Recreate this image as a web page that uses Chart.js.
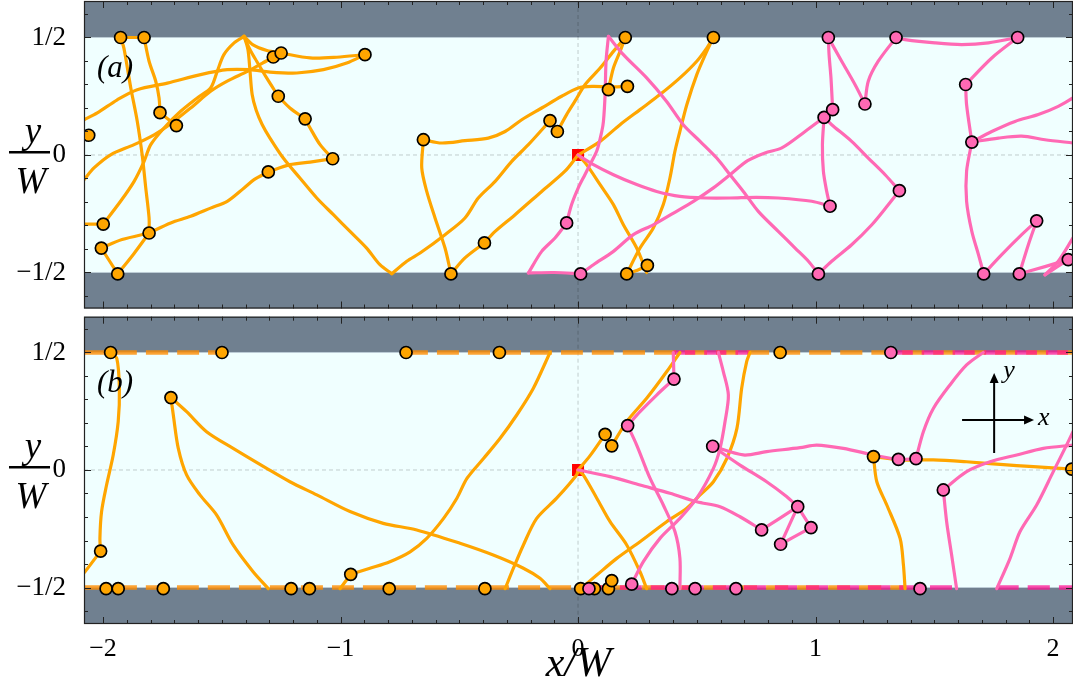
<!DOCTYPE html>
<html><head><meta charset="utf-8">
<script src="https://cdn.jsdelivr.net/npm/chart.js@4.4.0/dist/chart.umd.min.js"></script>
<style>
html,body{margin:0;padding:0;background:#fff;}
#wrap{position:relative;width:1073px;height:688px;overflow:hidden;}
#ca{position:absolute;left:0;top:0;}
#cb{position:absolute;left:0;top:312px;}
</style></head><body>
<div id="wrap"><canvas id="ca" width="1073" height="312"></canvas><canvas id="cb" width="1073" height="376"></canvas></div>
<script>
// ---------- axes ----------
const X_MIN = -2.08, X_MAX = 2.084;
const xTickValues = [-2, -1, 0, 1, 2];
const xTickLabels = ['−2', '−1', '0', '1', '2'];
const yTickValues = [-0.5, 0, 0.5];
const yTickLabels = ['−1/2', '0', '1/2'];
const WALL = 0.5;
const origin = [[0, 0]];

// ---------- panel (a) ----------
const aOrangePaths = [
  [[-1.926,0.5],[-1.827,0.5]],
  [[-1.926,0.5],[-1.912,0.455],[-1.883,0.285],[-1.856,0.145],[-1.835,0.0],[-1.82,-0.14],[-1.806,-0.268],[-1.806,-0.332]],
  [[-1.827,0.5],[-1.806,0.399],[-1.778,0.314],[-1.764,0.243],[-1.76,0.18]],
  [[-1.76,0.18],[-1.691,0.125]],
  [[-2.08,0.15],[-2.024,0.179],[-1.94,0.235],[-1.856,0.278],[-1.729,0.306],[-1.589,0.342],[-1.477,0.363],[-1.381,0.363],[-1.297,0.353],[-1.184,0.349],[-1.072,0.363],[-0.974,0.391],[-0.897,0.427]],
  [[-2.08,-0.105],[-2.038,-0.055],[-1.968,0.001],[-1.869,0.044],[-1.785,0.086],[-1.729,0.122],[-1.631,0.2],[-1.547,0.271],[-1.477,0.314],[-1.392,0.356],[-1.33,0.39],[-1.283,0.417]],
  [[-1.406,0.505],[-1.37,0.47],[-1.31,0.445],[-1.25,0.434]],
  [[-1.25,0.434],[-1.128,0.413],[-1.016,0.416],[-0.897,0.427]],
  [[-2.08,-0.294],[-1.999,-0.294]],
  [[-1.999,-0.294],[-1.926,-0.197],[-1.869,-0.112],[-1.827,-0.027],[-1.799,0.044],[-1.743,0.115],[-1.673,0.186],[-1.603,0.243],[-1.547,0.285],[-1.519,0.356],[-1.491,0.427],[-1.448,0.477],[-1.406,0.505]],
  [[-1.806,-0.332],[-1.715,-0.289],[-1.631,-0.261],[-1.547,-0.226],[-1.477,-0.197],[-1.406,-0.14],[-1.364,-0.105],[-1.304,-0.072]],
  [[-1.304,-0.072],[-1.213,-0.041],[-1.128,-0.03],[-1.033,-0.016]],
  [[-2.007,-0.396],[-1.92,-0.36],[-1.806,-0.332]],
  [[-2.007,-0.396],[-1.938,-0.506]],
  [[-1.938,-0.506],[-1.87,-0.42],[-1.806,-0.332]],
  [[-1.033,-0.016],[-1.086,0.044],[-1.128,0.115],[-1.149,0.154]],
  [[-1.149,0.154],[-1.213,0.2],[-1.262,0.25]],
  [[-1.262,0.25],[-1.311,0.328],[-1.353,0.399],[-1.381,0.448],[-1.406,0.505]],
  [[-1.406,0.505],[-1.39,0.45],[-1.382,0.37],[-1.372,0.257],[-1.355,0.19],[-1.33,0.13],[-1.297,0.072],[-1.241,-0.013],[-1.171,-0.098],[-1.1,-0.183],[-1.03,-0.254],[-0.96,-0.325],[-0.89,-0.396],[-0.834,-0.467],[-0.784,-0.505]],
  [[-0.784,-0.505],[-0.721,-0.452],[-0.665,-0.417],[-0.56,-0.339],[-0.476,-0.268],[-0.42,-0.183],[-0.349,-0.112],[-0.279,-0.027],[-0.209,0.044],[-0.118,0.146]],
  [[0,0],[-0.055,-0.069],[-0.153,-0.155],[-0.265,-0.254],[-0.349,-0.325],[-0.394,-0.374]],
  [[-0.394,-0.374],[-0.476,-0.438],[-0.535,-0.506]],
  [[-0.535,-0.506],[-0.56,-0.396],[-0.602,-0.268],[-0.637,-0.155],[-0.658,-0.055],[-0.651,0.065]],
  [[-0.651,0.065],[-0.574,0.051],[-0.476,0.061],[-0.378,0.072],[-0.307,0.1],[-0.237,0.15],[-0.153,0.2],[-0.069,0.25],[0.001,0.285],[0.06,0.292],[0.128,0.29],[0.208,0.292]],
  [[-0.087,0.1],[-0.048,0.172],[-0.013,0.229],[0.03,0.3],[0.093,0.37],[0.149,0.441],[0.199,0.5]],
  [[0.128,0.278],[0.149,0.37],[0.177,0.441],[0.199,0.5]],
  [[0,0],[0.093,0.058],[0.177,0.129],[0.261,0.193],[0.345,0.257],[0.429,0.328],[0.5,0.399],[0.542,0.455],[0.57,0.5]],
  [[0.57,0.5],[0.542,0.441],[0.5,0.342],[0.458,0.214],[0.429,0.101],[0.408,0.016],[0.387,-0.098],[0.359,-0.211],[0.317,-0.311],[0.261,-0.396],[0.205,-0.506]],
  [[0.205,-0.506],[0.25,-0.49],[0.292,-0.47]],
  [[0,0],[0.036,-0.041],[0.093,-0.126],[0.149,-0.211],[0.191,-0.297],[0.247,-0.396],[0.289,-0.5]]
];
const aOrangeDots = [[-1.926,0.5],[-1.827,0.5],[-1.76,0.18],[-1.691,0.125],[-2.06,0.084],[-1.999,-0.294],[-1.806,-0.332],[-2.007,-0.396],[-1.938,-0.506],[-1.283,0.417],[-1.25,0.434],[-0.897,0.427],[-1.262,0.25],[-1.149,0.154],[-1.033,-0.016],[-1.304,-0.072],[-0.651,0.065],[-0.535,-0.506],[-0.394,-0.374],[-0.118,0.146],[-0.087,0.1],[0.128,0.278],[0.208,0.292],[0.199,0.5],[0.57,0.5],[0.205,-0.506],[0.292,-0.47]];
const aPinkPaths = [
  [[-0.048,-0.289],[-0.027,-0.211],[0.001,-0.14],[0.029,-0.084],[0.051,-0.04],[0.08,0.02],[0.1,0.1],[0.107,0.143],[0.114,0.257],[0.118,0.399],[0.128,0.505]],
  [[-0.048,-0.289],[-0.097,-0.353],[-0.153,-0.41],[-0.209,-0.502]],
  [[-0.209,-0.502],[-0.1,-0.5],[0.011,-0.506]],
  [[0.128,0.505],[0.191,0.427],[0.289,0.328],[0.373,0.228],[0.443,0.129],[0.514,0.058],[0.584,-0.013],[0.64,-0.084],[0.696,-0.155],[0.759,-0.24],[0.843,-0.325],[0.914,-0.396],[0.97,-0.452],[1.012,-0.506]],
  [[1.012,-0.506],[1.068,-0.452],[1.152,-0.382],[1.237,-0.297],[1.307,-0.211],[1.353,-0.152]],
  [[1.353,-0.152],[1.293,-0.084],[1.222,-0.013],[1.152,0.058],[1.068,0.129],[1.036,0.16]],
  [[1.036,0.16],[1.029,0.044],[1.033,-0.069],[1.047,-0.155],[1.061,-0.218]],
  [[0,0],[0.065,-0.041],[0.149,-0.084],[0.247,-0.126],[0.331,-0.155],[0.429,-0.176],[0.542,-0.183],[0.64,-0.183],[0.75,-0.18],[0.843,-0.183],[0.984,-0.197],[1.061,-0.218]],
  [[0.011,-0.506],[0.065,-0.467],[0.149,-0.41],[0.233,-0.339],[0.317,-0.297],[0.402,-0.247],[0.486,-0.197],[0.57,-0.14],[0.64,-0.084],[0.714,-0.024],[0.787,0.009],[0.858,0.03],[0.956,0.1],[1.036,0.16]],
  [[1.036,0.16],[1.072,0.193]],
  [[1.072,0.193],[1.065,0.328],[1.057,0.427],[1.054,0.5]],
  [[1.054,0.5],[1.11,0.399],[1.166,0.3],[1.208,0.217]],
  [[1.208,0.217],[1.222,0.314],[1.264,0.399],[1.339,0.5]],
  [[1.339,0.5],[1.377,0.491],[1.503,0.477],[1.615,0.47],[1.728,0.477],[1.851,0.5]],
  [[1.851,0.5],[1.742,0.413],[1.632,0.3]],
  [[1.632,0.3],[1.636,0.214],[1.658,0.055]],
  [[1.658,0.055],[1.636,-0.069],[1.636,-0.197],[1.658,-0.325],[1.686,-0.424],[1.708,-0.506]],
  [[1.658,0.055],[1.77,0.072],[1.868,0.08],[1.966,0.065],[2.084,0.051]],
  [[1.658,0.055],[1.742,0.1],[1.84,0.143],[1.938,0.172],[2.022,0.207],[2.084,0.243]],
  [[1.708,-0.506],[1.784,-0.424],[1.868,-0.339],[1.931,-0.28]],
  [[1.931,-0.28],[1.896,-0.382],[1.858,-0.506]],
  [[1.858,-0.506],[1.966,-0.475],[2.064,-0.445]],
  [[2.064,-0.445],[1.966,-0.51]],
  [[1.966,-0.51],[2.022,-0.452],[2.084,-0.353]]
];
const aPinkDots = [[-0.048,-0.289],[0.011,-0.506],[1.012,-0.506],[1.353,-0.152],[1.036,0.16],[1.072,0.193],[1.061,-0.218],[1.054,0.5],[1.208,0.217],[1.339,0.5],[1.851,0.5],[1.632,0.3],[1.658,0.055],[1.708,-0.506],[1.931,-0.28],[1.858,-0.506],[2.064,-0.445]];

// ---------- panel (b) ----------
const bOrangeWall = [
  [[-2.08,0.5],[-1.499,0.5]],
  [[-0.724,0.5],[2.084,0.5]],
  [[-2.08,-0.5],[1.377,-0.5]]
];
const bPinkWall = [
  [[0.401,0.5],[0.724,0.5]],
  [[1.317,0.5],[2.084,0.5]],
  [[0.046,-0.5],[1.594,-0.5]],
  [[1.763,-0.5],[2.084,-0.5]]
];
const bOrangePaths = [
  [[-1.968,0.5],[-1.942,0.475],[-1.931,0.348],[-1.936,0.206],[-1.957,0.064],[-1.985,-0.064],[-2.006,-0.177],[-2.013,-0.291],[-2.01,-0.345]],
  [[-2.01,-0.345],[-2.076,-0.433],[-2.1,-0.46]],
  [[-1.714,0.308],[-1.704,0.234],[-1.683,0.092],[-1.648,-0.021],[-1.592,-0.106],[-1.522,-0.191],[-1.452,-0.319],[-1.368,-0.433],[-1.304,-0.505]],
  [[-1.714,0.308],[-1.648,0.248],[-1.564,0.163],[-1.452,0.092],[-1.311,0.007],[-1.213,-0.05],[-1.1,-0.106],[-0.96,-0.177],[-0.82,-0.227],[-0.679,-0.255],[-0.497,-0.312],[-0.357,-0.362],[-0.23,-0.418],[-0.16,-0.461],[-0.118,-0.505]],
  [[-1.002,-0.505],[-0.957,-0.444]],
  [[-0.957,-0.444],[-0.876,-0.418],[-0.792,-0.39],[-0.707,-0.348],[-0.637,-0.291],[-0.566,-0.206],[-0.51,-0.12],[-0.467,-0.035],[-0.397,0.05],[-0.328,0.135],[-0.258,0.234],[-0.188,0.348],[-0.118,0.5]],
  [[0,0],[0.05,0.06],[0.114,0.152]],
  [[0.142,0.103],[0.205,0.206],[0.289,0.305],[0.373,0.418],[0.429,0.5]],
  [[0,0],[-0.006,-0.021],[-0.09,-0.12],[-0.174,-0.206],[-0.23,-0.319],[-0.272,-0.418],[-0.307,-0.505]],
  [[0,0],[0.022,-0.021],[0.079,-0.12],[0.135,-0.22],[0.205,-0.319],[0.261,-0.433],[0.289,-0.505]],
  [[0.011,-0.505],[0.079,-0.447],[0.163,-0.376],[0.261,-0.305],[0.373,-0.22],[0.458,-0.163],[0.514,-0.106],[0.57,-0.05],[0.627,0.05],[0.669,0.177],[0.689,0.348],[0.71,0.461],[0.724,0.5]],
  [[0.128,-0.505],[0.142,-0.471]],
  [[1.244,0.057],[1.258,-0.05],[1.3,-0.149],[1.356,-0.291],[1.37,-0.404],[1.377,-0.505]],
  [[1.244,0.057],[1.356,0.043],[1.496,0.043],[1.636,0.035],[1.777,0.024],[1.917,0.014],[2.079,0.004]]
];
const bOrangeDots = [[-1.968,0.5],[-1.499,0.5],[-1.714,0.308],[-2.01,-0.345],[-1.987,-0.505],[-1.936,-0.505],[-1.746,-0.505],[-1.208,-0.505],[-1.131,-0.505],[-0.957,-0.444],[-0.724,0.5],[-0.331,0.5],[-0.795,-0.505],[-0.392,-0.505],[0.011,-0.505],[0.069,-0.505],[0.128,-0.505],[0.142,-0.471],[0.114,0.152],[0.142,0.103],[0.851,0.5],[1.244,0.057],[2.079,0.004]];
const bPinkPaths = [
  [[0,0],[0.135,-0.028],[0.261,-0.064],[0.387,-0.099],[0.5,-0.135],[0.598,-0.156],[0.682,-0.199],[0.773,-0.255]],
  [[0.209,0.189],[0.247,0.106],[0.303,-0.035],[0.359,-0.149],[0.408,-0.262],[0.429,-0.376],[0.429,-0.505]],
  [[0.226,-0.486],[0.275,-0.39],[0.345,-0.291],[0.429,-0.206],[0.5,-0.12],[0.57,0.007],[0.598,0.092],[0.619,0.206],[0.633,0.319],[0.612,0.418],[0.591,0.5]],
  [[0.209,0.189],[0.261,0.248],[0.331,0.319],[0.404,0.387]],
  [[0.404,0.387],[0.401,0.5]],
  [[0.567,0.101],[0.696,0.064],[0.794,0.078],[0.935,0.095],[1.005,0.106],[1.117,0.092],[1.244,0.064],[1.349,0.045],[1.423,0.048]],
  [[0.567,0.101],[0.682,0.021],[0.794,-0.05],[0.878,-0.113],[0.925,-0.156]],
  [[0.925,-0.156],[0.773,-0.255]],
  [[0.925,-0.156],[0.853,-0.316]],
  [[0.925,-0.156],[0.981,-0.245]],
  [[0.981,-0.245],[0.853,-0.316]],
  [[1.423,0.048],[1.454,0.163],[1.496,0.262],[1.566,0.362],[1.636,0.447],[1.706,0.5]],
  [[1.538,-0.085],[1.636,-0.007],[1.735,0.035],[1.847,0.064],[1.959,0.092],[2.084,0.106]],
  [[1.538,-0.085],[1.552,-0.22],[1.573,-0.362],[1.594,-0.505]],
  [[1.763,-0.505],[1.819,-0.376],[1.861,-0.262],[1.931,-0.149],[2.001,-0.007],[2.057,0.106],[2.084,0.163]]
];
const bPinkDots = [[0.046,-0.505],[0.226,-0.486],[0.395,-0.505],[0.493,-0.505],[0.209,0.189],[0.404,0.387],[0.567,0.101],[0.665,-0.505],[0.925,-0.156],[0.773,-0.255],[0.981,-0.245],[0.853,-0.316],[1.317,0.5],[1.349,0.045],[1.423,0.048],[1.538,-0.085],[1.44,-0.505]];

// ---------- styles ----------
const ORANGE = '#FFA500', PINK = '#FF69B4';
const ORANGE_DASH = 'rgba(255,140,0,0.8)', PINK_DASH = 'rgba(255,20,147,0.75)';
const SERIF = "'Liberation Serif', 'DejaVu Serif', serif";

function pts(a){ return a.map(p => ({x:p[0], y:p[1]})); }
function lineDs(seg, color, width, order, dash){
  return {data:pts(seg), showLine:true, borderColor:color, borderWidth:width, pointRadius:0, pointHoverRadius:0,
    tension:0.3, fill:false, clip:0, order:order, borderDash:dash||[], borderCapStyle: dash ? 'butt' : 'round', borderJoinStyle:'round'};
}
function dotDs(list, color, order){
  return {data:pts(list), showLine:false, pointRadius:6, pointHoverRadius:6, pointBackgroundColor:color,
    pointBorderColor:'#000', pointBorderWidth:1.7, clip:0, order:order};
}
function squareDs(order){
  return {data:pts(origin), showLine:false, pointStyle:'rect', pointRadius:8.5, pointHoverRadius:8.5,
    pointBackgroundColor:'#FF0000', pointBorderColor:'#FF0000', pointBorderWidth:0, clip:0, order:order};
}

function panelPlugin(label, arrows){
  return {
    id:'panel_'+label,
    beforeDatasetsDraw(chart){
      const {ctx, chartArea:a, scales:{x, y}} = chart;
      ctx.save();
      ctx.fillStyle = '#708090';
      ctx.fillRect(a.left, a.top, a.width, a.height);
      const yt = y.getPixelForValue(WALL), yb = y.getPixelForValue(-WALL);
      ctx.fillStyle = '#F0FFFF';
      ctx.fillRect(a.left, yt, a.width, yb - yt);
      ctx.strokeStyle = 'rgba(190,205,215,0.9)'; ctx.lineWidth = 1;
      ctx.beginPath(); ctx.moveTo(a.left, yt); ctx.lineTo(a.right, yt); ctx.moveTo(a.left, yb); ctx.lineTo(a.right, yb); ctx.stroke();
      ctx.strokeStyle = 'rgba(0,0,0,0.2)'; ctx.lineWidth = 1; ctx.setLineDash([4,3]);
      const x0 = x.getPixelForValue(0), y0 = y.getPixelForValue(0);
      ctx.beginPath(); ctx.moveTo(x0, a.top); ctx.lineTo(x0, a.bottom); ctx.moveTo(a.left, y0); ctx.lineTo(a.right, y0); ctx.stroke();
      ctx.restore();
    },
    afterDatasetsDraw(chart){
      const {ctx, chartArea:a, scales:{x, y}} = chart;
      ctx.save();
      // inward ticks
      ctx.strokeStyle = '#222'; ctx.lineWidth = 1;
      ctx.beginPath();
      for (let k = -21; k <= 21; k++){
        const v = k / 10; if (v < x.min || v > x.max) continue;
        const px = Math.round(x.getPixelForValue(v)) + 0.5, L = (k % 10 === 0) ? 7 : 4;
        ctx.moveTo(px, a.top); ctx.lineTo(px, a.top + L);
        ctx.moveTo(px, a.bottom); ctx.lineTo(px, a.bottom - L);
      }
      for (let k = -6; k <= 6; k++){
        const v = k / 10; if (v < y.min || v > y.max) continue;
        const py = Math.round(y.getPixelForValue(v)) + 0.5, L = (k % 5 === 0) ? 7 : 4;
        ctx.moveTo(a.left, py); ctx.lineTo(a.left + L, py);
        ctx.moveTo(a.right, py); ctx.lineTo(a.right - L, py);
      }
      ctx.stroke();
      ctx.strokeStyle = '#222'; ctx.lineWidth = 1.2;
      ctx.strokeRect(a.left + 0.5, a.top + 0.5, a.width - 1, a.height - 1);
      // panel label
      ctx.fillStyle = '#000';
      ctx.font = 'italic 31px ' + SERIF;
      ctx.textAlign = 'left'; ctx.textBaseline = 'alphabetic';
      ctx.fillText('(' + label + ')', a.left + 13, y.getPixelForValue(0.33));
      // y/W fraction label
      const y0 = y.getPixelForValue(0);
      ctx.font = 'italic 37px ' + SERIF;
      ctx.textAlign = 'center';
      ctx.fillText('y', 33, y0 - 12);
      ctx.fillText('W', 31, y0 + 38);
      ctx.fillRect(9, y0 - 4, 41, 2.5);
      if (arrows){
        const cx = x.getPixelForValue(1.752), cy = y.getPixelForValue(0.213);
        const yTop = y.getPixelForValue(0.413), yBot = y.getPixelForValue(0.072);
        const xL = x.getPixelForValue(1.617), xR = x.getPixelForValue(1.92);
        ctx.strokeStyle = '#000'; ctx.lineWidth = 2;
        ctx.beginPath(); ctx.moveTo(cx, yBot); ctx.lineTo(cx, yTop + 6); ctx.moveTo(xL, cy); ctx.lineTo(xR - 6, cy); ctx.stroke();
        ctx.beginPath(); ctx.moveTo(cx, yTop); ctx.lineTo(cx - 4.5, yTop + 10); ctx.lineTo(cx + 4.5, yTop + 10); ctx.closePath(); ctx.fill();
        ctx.beginPath(); ctx.moveTo(xR, cy); ctx.lineTo(xR - 10, cy - 4.5); ctx.lineTo(xR - 10, cy + 4.5); ctx.closePath(); ctx.fill();
        ctx.font = 'italic 26px ' + SERIF;
        ctx.textAlign = 'left'; ctx.textBaseline = 'middle';
        ctx.fillText('y', cx + 9, yTop - 2);
        ctx.fillText('x', xR + 4, cy - 2);
      }
      ctx.restore();
    }
  };
}

function buildDatasets(orangePaths, orangeDots, pinkPaths, pinkDots, orangeWall, pinkWall){
  const ds = [];
  ds.push(dotDs(pinkDots, PINK, 0));
  ds.push(dotDs(orangeDots, ORANGE, 1));
  pinkPaths.forEach(s => ds.push(lineDs(s, PINK, 3.2, 2)));
  orangePaths.forEach(s => ds.push(lineDs(s, ORANGE, 3.2, 3)));
  ds.push(squareDs(4));
  pinkWall.forEach(s => ds.push(lineDs(s, PINK_DASH, 4.5, 5, [22, 9])));
  orangeWall.forEach(s => ds.push(lineDs(s, ORANGE_DASH, 4.5, 6, [22, 9])));
  return ds;
}

function makeChart(id, datasets, opt){
  return new Chart(document.getElementById(id), {
    type:'scatter',
    data:{datasets},
    options:{
      responsive:false, animation:false, events:[],
      layout:{autoPadding:false, padding:{left:0, right:0, top:opt.padTop, bottom:0}},
      plugins:{legend:{display:false}, tooltip:{enabled:false}},
      scales:{
        x:{type:'linear', min:X_MIN, max:X_MAX,
          grid:{display:false}, border:{display:false},
          afterBuildTicks:s => { s.ticks = xTickValues.map(v => ({value:v})); },
          ticks:{display:opt.showX, padding:2, color:'#000', maxRotation:0, autoSkip:false, includeBounds:false,
            font:{family:SERIF, size:26},
            callback:v => xTickLabels[xTickValues.indexOf(v)]},
          title:{display:opt.showX, text:'x/W', color:'#000', padding:{top:0, bottom:-2},
            font:{family:SERIF, size:42, style:'italic'}},
          afterFit:s => { s.height = opt.xHeight; s.paddingLeft = 0; s.paddingRight = 0; }
        },
        y:{type:'linear', min:opt.yMin, max:opt.yMax,
          grid:{display:false}, border:{display:false},
          afterBuildTicks:s => { s.ticks = yTickValues.map(v => ({value:v})); },
          ticks:{padding:10, color:'#000', autoSkip:false, font:{family:SERIF, size:27},
            callback:v => yTickLabels[yTickValues.indexOf(v)]},
          afterFit:s => { s.width = 84; s.paddingTop = 0; s.paddingBottom = 0; }
        }
      }
    },
    plugins:[panelPlugin(opt.label, opt.arrows)]
  });
}

makeChart('ca', buildDatasets(aOrangePaths, aOrangeDots, aPinkPaths, aPinkDots, [], []),
  {label:'a', arrows:false, padTop:1, xHeight:3.5, showX:false, yMin:-0.6532, yMax:0.6553});
makeChart('cb', buildDatasets(bOrangePaths, bOrangeDots, bPinkPaths, bPinkDots, bOrangeWall, bPinkWall),
  {label:'b', arrows:true, padTop:4.7, xHeight:64, showX:true, yMin:-0.6553, yMax:0.6523});
</script>
</body></html>
